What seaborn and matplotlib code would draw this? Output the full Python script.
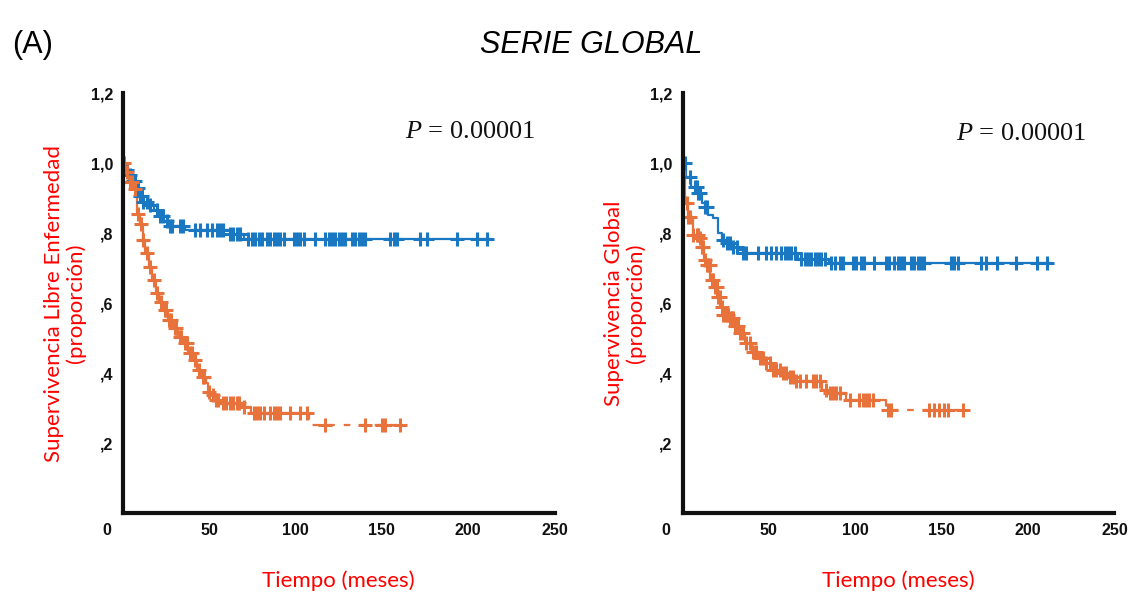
import numpy as np
import pandas as pd
import matplotlib
matplotlib.use("Agg")
import matplotlib.pyplot as plt
import seaborn as sns

# ---- Kaplan–Meier step curves (months, proportion) ----
# Disease-free survival, favourable group
dfs_fav_t = [0, 2, 4, 6, 8, 10, 12, 15, 18, 21, 24, 27, 36, 62, 70]
dfs_fav_s = [1.0, 0.98, 0.965, 0.95, 0.93, 0.905, 0.89, 0.88, 0.865, 0.85,
             0.835, 0.82, 0.81, 0.797, 0.782]
dfs_fav_end = 214
dfs_fav_cens = [2.3, 4.2, 6.2, 7.1, 8.1, 9.1, 10, 11, 12, 13.9, 15.8, 19.7, 21.6,
                23.5, 25.5, 27.4, 28.3, 33.2, 35.1, 41.9, 44.8, 48.6, 51.5, 54.4,
                56.4, 58.3, 62.1, 64.1, 66, 67.9, 72.8, 74.7, 76.7, 78.6, 80.5,
                83.4, 85.4, 87.3, 89.2, 91.1, 93.1, 98.9, 100.8, 102.7, 104.7,
                111.4, 117.2, 119.1, 121.1, 123, 124.9, 126.9, 128.8, 132.7,
                134.6, 136.5, 138.5, 140.4, 154.9, 156.8, 158.7, 172.2, 176.1,
                193.5, 205.1, 210.9]

# Disease-free survival, unfavourable group
dfs_unf_t = [0, 1.5, 3.5, 6.5, 8, 10, 11.5, 13, 15, 17, 19, 21, 23.5, 26, 29,
             32, 35, 38, 41, 43, 45.5, 48, 49.5, 51, 53, 56.5, 69, 74, 108]
dfs_unf_s = [1.0, 0.975, 0.945, 0.925, 0.855, 0.825, 0.78, 0.742, 0.704, 0.666,
             0.628, 0.604, 0.58, 0.551, 0.528, 0.504, 0.485, 0.456, 0.437, 0.409,
             0.389, 0.371, 0.347, 0.337, 0.323, 0.315, 0.304, 0.287, 0.251]
dfs_unf_end = 163.5
dfs_unf_cens = [1, 2.5, 4.5, 5.5, 7, 9, 10.5, 12, 14, 16, 18, 20, 22, 24.5, 25,
                27, 28, 30, 31, 33, 34, 36, 37, 39, 40, 42, 44, 46.5, 47, 50, 52,
                54, 55, 58, 60, 62, 64, 66, 67.5, 70, 75.7, 77.7, 79.6, 81.5,
                85.4, 87.3, 89.2, 91.1, 97, 102.7, 106.6, 117.2, 140.4, 150,
                151.8, 160.3]

# Overall survival, favourable group
os_fav_t = [0, 1.8, 5, 9, 11.5, 13, 15, 17.5, 20.5, 23, 25.5, 29, 32, 35, 67, 84.5]
os_fav_s = [1.0, 0.961, 0.932, 0.913, 0.885, 0.875, 0.851, 0.842, 0.8, 0.78,
            0.771, 0.761, 0.751, 0.744, 0.727, 0.713]
os_fav_end = 214
os_fav_cens = [1.4, 4.3, 7.2, 8.2, 9.1, 10.1, 13, 14, 23.6, 25.5, 27.4, 29.3,
               31.3, 35.1, 37, 43.8, 48.6, 51.5, 54.3, 57.2, 59.2, 61.1, 63, 64.9,
               68.8, 70.7, 72.6, 74.5, 76.5, 78.4, 80.3, 82.2, 86.1, 88, 90.9,
               92.8, 98.6, 100.5, 103.4, 105.3, 111.1, 117.8, 119.7, 122.6, 124.5,
               126.5, 128.4, 132.3, 134.2, 136.1, 138, 139.9, 155.3, 157.2, 159.2,
               172.6, 175.5, 182.2, 192.8, 205.3, 211.1]

# Overall survival, unfavourable group
os_unf_t = [0, 1.5, 3.2, 5.8, 9.5, 11, 12.5, 14, 16, 18.5, 20, 21.8, 23.5, 27,
            29.5, 32.5, 36, 40, 44, 48.5, 52, 57, 61, 65, 80.5, 85, 94.5, 117.5]
os_unf_s = [1.0, 0.885, 0.847, 0.794, 0.785, 0.761, 0.723, 0.708, 0.666, 0.647,
            0.618, 0.59, 0.566, 0.556, 0.533, 0.514, 0.485, 0.461, 0.442, 0.428,
            0.409, 0.4, 0.39, 0.376, 0.352, 0.342, 0.323, 0.294]
os_unf_end = 166
os_unf_cens = [2.4, 3.4, 4.3, 6.3, 8.2, 9.1, 10.1, 11.1, 12, 13, 14, 14.9, 15.9,
               16.8, 17.8, 18.8, 19.7, 20.7, 21.6, 22.6, 23.6, 24.5, 25.5, 26.5,
               27.4, 28.4, 29.3, 30.3, 31.3, 32.2, 33.2, 35.1, 37, 39, 40.9, 42.8,
               44.7, 46.7, 48.6, 50.5, 52.4, 54.3, 56.3, 58.2, 60.1, 62, 64, 65.9,
               67.8, 71.7, 75.5, 77.4, 79.4, 83.2, 85.1, 87.1, 89, 90.9, 96.7,
               102.4, 104.4, 106.3, 108.2, 110.1, 118.8, 120.8, 142.9, 145.8,
               148.7, 151.6, 153.5, 162.2]

x_ticks = [0, 50, 100, 150, 200, 250]
# the origin label is set a little to the left of its tick
x_ticklabels = ["0" + " " * 7, "50", "100", "150", "200", "250"]
y_ticks = [0.2, 0.4, 0.6, 0.8, 1.0, 1.2]
y_ticklabels = [",2", ",4", ",6", ",8", "1,0", "1,2"]

title = "SERIE GLOBAL"
panel_tag = "(A)"
p_text = r"$P$ = 0.00001"
xlabel = "Tiempo (meses)"
ylabels = ["Supervivencia Libre Enfermedad\n(proporción)",
           "Supervivencia Global\n(proporción)"]

BLUE = "#1a78c2"
ORANGE = "#e8723c"
RED = "#ff0000"
INK = "#111111"

sns.set_style("white")
plt.rcParams["font.family"] = ["Liberation Sans", "DejaVu Sans"]
plt.rcParams["text.color"] = "black"
plt.rcParams["mathtext.fontset"] = "custom"
plt.rcParams["mathtext.it"] = "Liberation Serif:italic"
plt.rcParams["mathtext.rm"] = "Liberation Serif"


def step_value(times, surv, at):
    idx = np.searchsorted(np.asarray(times), np.asarray(at), side="right") - 1
    return np.asarray(surv)[idx]


def draw_curve(ax, times, surv, end, cens, color, dashed_tail):
    body = pd.DataFrame({"t": times, "s": surv}).iloc[:-1]
    body = pd.concat([body, pd.DataFrame({"t": [times[-1]], "s": [surv[-2]]})])
    sns.lineplot(data=body, x="t", y="s", ax=ax, color=color, lw=1.6,
                 drawstyle="steps-post", estimator=None, sort=False, zorder=3)
    # drop into the last plateau and the plateau itself
    tail = pd.DataFrame({"t": [times[-1], times[-1], end],
                         "s": [surv[-2], surv[-1], surv[-1]]})
    sns.lineplot(data=tail, x="t", y="s", ax=ax, color=color, lw=1.6,
                 estimator=None, sort=False, zorder=3,
                 linestyle=(0, (3, 4)) if dashed_tail else "-")
    cy = step_value(times, surv, cens)
    sns.scatterplot(x=cens, y=cy, ax=ax, marker="+", s=95, linewidth=2.2,
                    color=color, zorder=4, legend=False)


fig = plt.figure(figsize=(11.32, 5.92), dpi=100)
W, H = 1132, 592
ax_w, ax_h = 432 / W, 420 / H
bottom = 1 - 513 / H
ax1 = fig.add_axes([122.7 / W, bottom, ax_w, ax_h])
ax2 = fig.add_axes([682.5 / W, bottom, ax_w, ax_h])

panels = [
    (ax1, (dfs_fav_t, dfs_fav_s, dfs_fav_end, dfs_fav_cens),
     (dfs_unf_t, dfs_unf_s, dfs_unf_end, dfs_unf_cens), ylabels[0], (0.653, 0.893)),
    (ax2, (os_fav_t, os_fav_s, os_fav_end, os_fav_cens),
     (os_unf_t, os_unf_s, os_unf_end, os_unf_cens), ylabels[1], (0.634, 0.888)),
]

for ax, fav, unf, ylab, ppos in panels:
    draw_curve(ax, *fav, BLUE, dashed_tail=False)
    draw_curve(ax, *unf, ORANGE, dashed_tail=True)
    ax.set_xlim(0, 250)
    ax.set_ylim(0, 1.2)
    ax.set_xticks(x_ticks)
    ax.set_xticklabels(x_ticklabels)
    ax.set_yticks(y_ticks)
    ax.set_yticklabels(y_ticklabels)
    for lab in ax.get_xticklabels() + ax.get_yticklabels():
        lab.set_fontweight("bold")
        lab.set_fontsize(11.5)
        lab.set_color(INK)
    ax.tick_params(axis="both", direction="out", length=3, width=1.5,
                   color=INK, pad=4)
    ax.tick_params(axis="x", pad=4)
    for side in ("top", "right"):
        ax.spines[side].set_visible(False)
    for side in ("left", "bottom"):
        ax.spines[side].set_linewidth(3)
        ax.spines[side].set_color(INK)
        ax.spines[side].set_zorder(5)
    ax.set_xlabel(xlabel, color=RED, fontsize=16, family=["Lato", "DejaVu Sans"],
                  va="center")
    ax.xaxis.set_label_coords(0.5, -0.162)
    ax.set_ylabel(ylab, color=RED, fontsize=16, family=["Lato", "DejaVu Sans"],
                  va="center", linespacing=1.1)
    ax.yaxis.set_label_coords(-0.133, 0.5)
    ax.text(ppos[0], ppos[1], p_text, transform=ax.transAxes, ha="left",
            va="baseline", fontsize=19, family=["Liberation Serif", "DejaVu Serif"],
            color=INK)

fig.text(591.5 / W, 1 - 53 / H, title, ha="center", va="baseline", fontsize=22,
         style="italic", color="black")
fig.text(12 / W, 1 - 53 / H, panel_tag, ha="left", va="baseline", fontsize=22,
         color="black")

fig.savefig("out.png", dpi=100, facecolor="white")
